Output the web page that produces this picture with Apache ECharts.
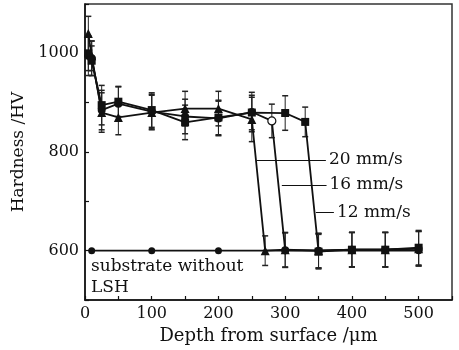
<!DOCTYPE html>
<html>
<head>
<meta charset="utf-8">
<script src="https://cdn.jsdelivr.net/npm/echarts@6/dist/echarts.min.js"></script>
<style>html,body{margin:0;padding:0;background:#fff;}#c{width:459px;height:350px;}</style>
</head>
<body>
<div id="c"></div>
<script>
// ---- data ----
const x20 = [5, 10, 25, 50, 100, 150, 200, 250, 270, 300, 350, 400, 450, 500];
const y20 = [1040, 995, 880, 870, 880, 888, 888, 866, 600, 602, 600, 602, 602, 604];
const e20 = [35, 30, 40, 35, 35, 35, 35, 45, 30, 35, 35, 35, 35, 35];

const x16 = [5, 10, 25, 50, 100, 150, 200, 250, 280, 300, 350, 400, 450, 500];
const y16 = [995, 990, 885, 898, 882, 872, 868, 881, 863, 601, 600, 602, 602, 604];
const e16 = [40, 35, 40, 35, 35, 35, 35, 40, 34, 35, 35, 35, 35, 35];

const x12 = [5, 10, 25, 50, 100, 150, 200, 250, 300, 330, 350, 400, 450, 500];
const y12 = [1000, 985, 895, 902, 885, 860, 870, 880, 879, 861, 598, 602, 602, 606];
const e12 = [35, 30, 40, 30, 35, 35, 35, 35, 35, 30, 35, 35, 35, 35];

const xSub = [10, 100, 200, 300, 400, 500];
const ySub = [600, 600, 600, 600, 600, 600];

const seriesNames = ['20 mm/s', '16 mm/s', '12 mm/s'];
const yTickLabels = [600, 800, 1000];
const xTickLabels = [0, 100, 200, 300, 400, 500];

// ---- chart ----
const FONT = 'DejaVu Serif';
const pairs = (xs, ys) => xs.map((x, i) => [x, ys[i]]);
const errs = (xs, ys, es) => xs.map((x, i) => [x, ys[i] - es[i], ys[i] + es[i]]);

function errRender(params, api) {
  const x = api.value(0), lo = api.value(1), hi = api.value(2);
  const pHi = api.coord([x, hi]), pLo = api.coord([x, lo]);
  const w = 3;
  const style = { stroke: '#222', lineWidth: 1 };
  return { type: 'group', children: [
    { type: 'line', shape: { x1: pHi[0], y1: pHi[1], x2: pLo[0], y2: pLo[1] }, style },
    { type: 'line', shape: { x1: pHi[0] - w, y1: pHi[1], x2: pHi[0] + w, y2: pHi[1] }, style: { stroke: '#222', lineWidth: 1.5 } },
    { type: 'line', shape: { x1: pLo[0] - w, y1: pLo[1], x2: pLo[0] + w, y2: pLo[1] }, style: { stroke: '#222', lineWidth: 1.5 } }
  ]};
}

function errSeries(data) {
  return { type: 'custom', renderItem: errRender, data: data, z: 1, silent: true,
           encode: { x: 0, y: [1, 2] } };
}

const lineStyleBase = { color: '#111', width: 1.8 };
const labelStyle = { show: true, position: 'end', distance: 3, color: '#111',
                     fontFamily: FONT, fontSize: 17 };

function leader(x1, x2, y, name) {
  return [{ coord: [x1, y] }, { coord: [x2, y], label: Object.assign({ formatter: name }, labelStyle) }];
}

const d16 = pairs(x16, y16).map((p, i) => x16[i] === 280 ?
  { value: p, itemStyle: { color: '#fff', borderColor: '#111', borderWidth: 1.2 } } : p);

const option = {
  animation: false,
  grid: { left: 85, right: 7, top: 4, bottom: 50, show: true, borderColor: '#333', borderWidth: 1.5 },
  xAxis: {
    type: 'value', min: 0, max: 550, interval: 50,
    name: 'Depth from surface /μm', nameLocation: 'middle', nameGap: 27,
    nameTextStyle: { fontFamily: FONT, fontSize: 18, color: '#111' },
    axisLine: { lineStyle: { color: '#111', width: 1.5 } },
    axisTick: { inside: true, length: 4, lineStyle: { color: '#111', width: 1.2 } },
    axisLabel: { fontFamily: FONT, fontSize: 16, color: '#111', margin: 6,
      formatter: v => xTickLabels.indexOf(v) >= 0 ? String(v) : '' },
    splitLine: { show: false }
  },
  yAxis: {
    type: 'value', min: 500, max: 1100, interval: 100,
    name: 'Hardness /HV', nameLocation: 'middle', nameGap: 55,
    nameTextStyle: { fontFamily: FONT, fontSize: 17, color: '#111' },
    axisLine: { lineStyle: { color: '#111', width: 1.5 } },
    axisTick: { inside: true, length: 4, lineStyle: { color: '#111', width: 1.2 } },
    axisLabel: { fontFamily: FONT, fontSize: 16, color: '#111', margin: 6,
      formatter: v => yTickLabels.indexOf(v) >= 0 ? String(v) : '' },
    splitLine: { show: false }
  },
  series: [
    errSeries(errs(x20, y20, e20)),
    errSeries(errs(x16, y16, e16)),
    errSeries(errs(x12, y12, e12)),
    { type: 'line', name: 'substrate', data: pairs(xSub, ySub), symbol: 'circle', symbolSize: 7,
      lineStyle: lineStyleBase, itemStyle: { color: '#111' }, z: 3 },
    { type: 'line', name: seriesNames[0], data: pairs(x20, y20), symbol: 'triangle', symbolSize: 9,
      lineStyle: lineStyleBase, itemStyle: { color: '#111' }, z: 4,
      markLine: { silent: true, symbol: 'none', lineStyle: { color: '#111', width: 1, type: 'solid' },
        data: [leader(257, 361, 784, seriesNames[0]), leader(295, 362, 733, seriesNames[1]), leader(346, 373, 677, seriesNames[2])] } },
    { type: 'line', name: seriesNames[1], data: d16, symbol: 'circle', symbolSize: 8,
      lineStyle: lineStyleBase, itemStyle: { color: '#111' }, z: 4 },
    { type: 'line', name: seriesNames[2], data: pairs(x12, y12), symbol: 'rect', symbolSize: 8,
      lineStyle: lineStyleBase, itemStyle: { color: '#111' }, z: 4 }
  ],
  graphic: [
    { type: 'text', left: 91, top: 256, style: { text: 'substrate without\nLSH', fontFamily: FONT,
      fontSize: 17, lineHeight: 21, fill: '#111' } }
  ]
};

const chart = echarts.init(document.getElementById('c'), null, { renderer: 'canvas' });
chart.setOption(option);
</script>
</body>
</html>
